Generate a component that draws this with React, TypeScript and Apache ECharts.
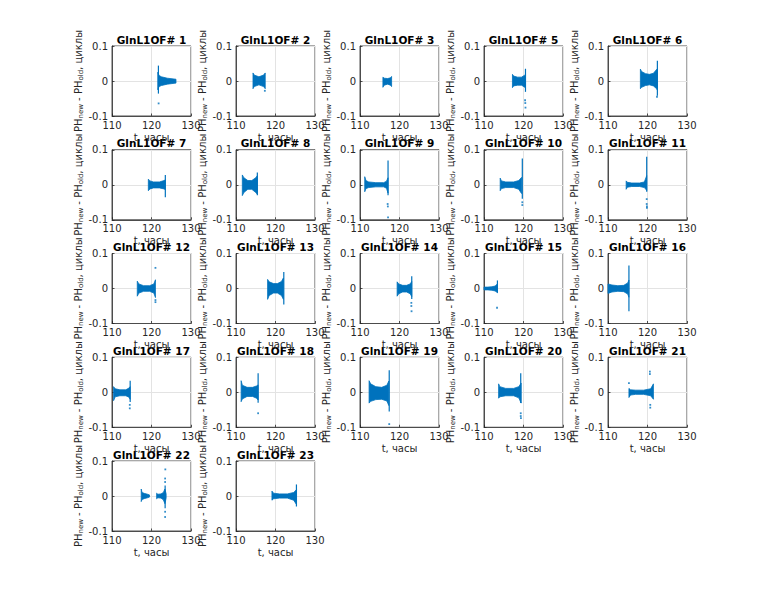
import React, { useEffect, useRef } from "react";
import * as echarts from "echarts";

const panelIds = [1, 2, 3, 5, 6, 7, 8, 9, 10, 11, 12, 13, 14, 15, 16, 17, 18, 19, 20, 21, 22, 23];
const xTicks = [110, 120, 130];
const yTicks = [-0.1, 0, 0.1];
const titlePrefix = "GlnL1OF# ";
const xName = "t, часы";

// envelope of each dense point cloud: panel, times, upper edge, lower edge
const bandPanel = [1, 2, 3, 5, 6, 7, 8, 9, 10, 11, 12, 13, 14, 15, 16, 17, 18, 19, 20, 21, 22, 22, 23];
const bandT = [
  [121.6, 121.9, 122.5, 124, 126.2],
  [114.3, 114.6, 115.8, 117.0, 117.4],
  [115.8, 116.1, 117, 117.7, 118.0],
  [117.2, 117.5, 118.5, 119.5, 120.2, 120.5],
  [118.2, 118.5, 119.5, 120.5, 121.5, 122.3, 122.5],
  [119.2, 119.6, 120.5, 122, 123.2, 123.5],
  [111.6, 112.0, 113.0, 114.0, 115.0, 115.4],
  [111.2, 111.5, 112.2, 114, 116, 116.7, 117.1],
  [114.1, 114.4, 115.5, 117.5, 118.8, 119.5],
  [114.6, 114.9, 116, 118, 119.2, 119.8],
  [116.4, 116.8, 118, 119.5, 120.6, 121.0],
  [118, 118.4, 119.5, 120.5, 121.5, 122],
  [119.4, 119.8, 120.8, 121.8, 122.7, 123.1],
  [110, 111, 112, 112.8, 113.2, 113.4],
  [110, 111, 112.5, 114, 115, 115.3],
  [110.4, 110.8, 112, 113.5, 114.3, 114.6],
  [111.3, 111.6, 112.8, 114.2, 115.2, 115.6],
  [112.3, 112.7, 114, 115.5, 116.8, 117.3],
  [113.7, 114.0, 115.5, 117.5, 118.8, 119.4],
  [115.3, 115.7, 117, 119, 120.8, 121.5],
  [117.4, 117.6, 118.3, 119.0, 119.5],
  [121.3, 121.6, 122.4, 123.0, 123.4, 123.7],
  [119.1, 119.5, 121, 123, 124.6, 125.3],
];
const bandUp = [
  [0.025, 0.016, 0.012, 0.008, 0.005],
  [0.023, 0.017, 0.012, 0.017, 0.023],
  [0.011, 0.008, 0.007, 0.009, 0.013],
  [0.019, 0.014, 0.011, 0.011, 0.016, 0.018],
  [0.034, 0.027, 0.021, 0.019, 0.022, 0.033, 0.035],
  [0.016, 0.011, 0.008, 0.008, 0.012, 0.014],
  [0.028, 0.02, 0.012, 0.012, 0.02, 0.026],
  [0.023, 0.012, 0.008, 0.006, 0.006, 0.01, 0.02],
  [0.019, 0.011, 0.008, 0.008, 0.012, 0.021],
  [0.011, 0.007, 0.005, 0.005, 0.008, 0.026],
  [0.021, 0.013, 0.008, 0.008, 0.013, 0.025],
  [0.026, 0.019, 0.014, 0.014, 0.02, 0.03],
  [0.019, 0.013, 0.009, 0.009, 0.013, 0.02],
  [0.004, 0.004, 0.005, 0.007, 0.011, 0.014],
  [0.013, 0.01, 0.008, 0.009, 0.016, 0.024],
  [0.016, 0.01, 0.007, 0.007, 0.012, 0.016],
  [0.033, 0.02, 0.014, 0.014, 0.018, 0.021],
  [0.033, 0.024, 0.016, 0.014, 0.02, 0.032],
  [0.024, 0.016, 0.011, 0.011, 0.016, 0.026],
  [0.011, 0.007, 0.006, 0.006, 0.01, 0.024],
  [0.02, 0.01, 0.007, 0.005, 0.003],
  [0.008, 0.005, 0.006, 0.01, 0.02, 0.006],
  [0.014, 0.008, 0.006, 0.006, 0.01, 0.018],
];
const bandLo = [
  [-0.025, -0.016, -0.013, -0.009, -0.006],
  [-0.022, -0.016, -0.011, -0.016, -0.022],
  [-0.018, -0.012, -0.009, -0.012, -0.016],
  [-0.019, -0.014, -0.012, -0.012, -0.017, -0.02],
  [-0.022, -0.018, -0.013, -0.011, -0.014, -0.022, -0.026],
  [-0.017, -0.012, -0.009, -0.009, -0.012, -0.014],
  [-0.031, -0.022, -0.013, -0.013, -0.022, -0.027],
  [-0.02, -0.011, -0.008, -0.006, -0.006, -0.01, -0.024],
  [-0.017, -0.011, -0.008, -0.008, -0.013, -0.025],
  [-0.013, -0.007, -0.005, -0.005, -0.008, -0.016],
  [-0.022, -0.013, -0.008, -0.008, -0.013, -0.026],
  [-0.031, -0.02, -0.013, -0.013, -0.02, -0.031],
  [-0.022, -0.015, -0.01, -0.01, -0.015, -0.023],
  [-0.004, -0.004, -0.005, -0.007, -0.01, -0.012],
  [-0.014, -0.01, -0.008, -0.009, -0.016, -0.025],
  [-0.024, -0.013, -0.01, -0.01, -0.014, -0.02],
  [-0.027, -0.019, -0.012, -0.012, -0.017, -0.022],
  [-0.031, -0.026, -0.021, -0.02, -0.025, -0.038],
  [-0.017, -0.013, -0.01, -0.01, -0.016, -0.031],
  [-0.015, -0.008, -0.006, -0.006, -0.01, -0.02],
  [-0.016, -0.01, -0.007, -0.005, -0.003],
  [-0.008, -0.005, -0.006, -0.011, -0.022, -0.006],
  [-0.012, -0.008, -0.006, -0.006, -0.012, -0.024],
];

// thin vertical streaks of points: [panel, t, low, high]
const spikes = [
  [1, 121.75, -0.036, 0.044],
  [5, 120.5, -0.031, 0.035],
  [6, 122.5, -0.042, 0.058],
  [7, 123.5, -0.036, 0.028],
  [8, 115.4, -0.03, 0.035],
  [9, 117.1, -0.03, 0.069],
  [10, 119.7, -0.04, 0.075],
  [11, 119.8, -0.02, 0.08],
  [13, 122.1, -0.046, 0.047],
  [14, 123.1, -0.03, 0.035],
  [15, 113.4, -0.012, 0.023],
  [16, 115.3, -0.065, 0.066],
  [17, 114.6, -0.028, 0.033],
  [18, 115.6, -0.03, 0.054],
  [19, 117.4, -0.055, 0.063],
  [20, 119.3, -0.031, 0.054],
  [22, 123.45, -0.035, 0.03],
  [23, 125.3, -0.03, 0.033],
];

// isolated points: [panel, t, value]
const outliers = [
  [1, 121.8, -0.064],
  [2, 117.3, -0.028],
  [5, 120.4, -0.055], [5, 120.45, -0.063], [5, 120.5, -0.076],
  [6, 122.4, -0.045],
  [9, 117.0, -0.055], [9, 117.05, -0.062], [9, 117.1, -0.093],
  [10, 119.7, -0.05], [10, 119.7, -0.058],
  [11, 119.8, -0.041], [11, 119.8, -0.055], [11, 119.85, -0.062], [11, 119.85, -0.066],
  [12, 121.0, 0.059], [12, 121.0, -0.033], [12, 121.0, -0.039],
  [14, 123.0, -0.041], [14, 123.0, -0.05], [14, 123.05, -0.065],
  [15, 113.3, -0.055],
  [17, 114.5, -0.036], [17, 114.5, -0.046],
  [18, 115.6, -0.06],
  [19, 117.4, -0.091],
  [20, 119.3, -0.06], [20, 119.3, -0.068], [20, 119.35, -0.074],
  [21, 115.3, 0.026], [21, 120.6, 0.059], [21, 120.6, 0.052], [21, 120.7, -0.036], [21, 120.7, -0.044],
  [22, 123.5, 0.076], [22, 123.45, 0.05], [22, 123.45, 0.04], [22, 123.45, -0.045], [22, 123.45, -0.06],
];

const FONT = "DejaVu Sans";
const BLUE = "#0072BD";
const AX = "#262626";

export default function App() {
  const ref = useRef<HTMLDivElement>(null);
  useEffect(() => {
    if (!ref.current) return;
    const chart = echarts.init(ref.current, undefined, { renderer: "svg" });
    const L0 = 112, CS = 124, T0 = 46, RS = 103.75, W = 79, H = 70;
    const pos = panelIds.map((_, k) => ({
      left: L0 + (k % 5) * CS,
      top: T0 + Math.floor(k / 5) * RS,
    }));
    const grid = pos.map((p) => ({
      left: p.left, top: p.top, width: W, height: H,
      show: true, borderColor: AX, borderWidth: 0.8, backgroundColor: "transparent",
    }));
    const xAxis = panelIds.map((_, k) => ({
      gridIndex: k, type: "value", min: xTicks[0], max: xTicks[xTicks.length - 1], interval: xTicks[1] - xTicks[0],
      axisLine: { show: true, onZero: false, lineStyle: { color: AX, width: 0.8 } },
      axisTick: { show: true, inside: true, length: 2.5, lineStyle: { color: AX, width: 0.8 } },
      axisLabel: { fontSize: 10, color: AX, fontFamily: FONT, margin: 4 },
      splitLine: { show: true, lineStyle: { color: "#e3e3e3", width: 1 } },
      name: xName, nameLocation: "middle", nameGap: 16,
      nameTextStyle: { fontSize: 10, color: AX, fontFamily: FONT },
    }));
    const yAxis = panelIds.map((_, k) => ({
      gridIndex: k, type: "value", min: yTicks[0], max: yTicks[yTicks.length - 1], interval: yTicks[1] - yTicks[0],
      axisLine: { show: true, onZero: false, lineStyle: { color: AX, width: 0.8 } },
      axisTick: { show: true, inside: true, length: 2.5, lineStyle: { color: AX, width: 0.8 } },
      axisLabel: {
        fontSize: 10, color: AX, fontFamily: FONT, margin: 4,
        formatter: (v: number) => (Math.abs(v) < 1e-9 ? "0" : String(Math.round(v * 10) / 10)),
      },
      splitLine: { show: true, lineStyle: { color: "#e3e3e3", width: 1 } },
      name: "{m|PH}{s|new}{m| - PH}{s|old}{m|, циклы}",
      nameLocation: "middle", nameRotate: 90, nameGap: 24,
      nameTextStyle: {
        color: AX, fontFamily: FONT, fontSize: 10, lineHeight: 16,
        rich: {
          m: { fontSize: 10, fontFamily: FONT, color: AX, lineHeight: 12, verticalAlign: "middle" },
          s: { fontSize: 7, fontFamily: FONT, color: AX, lineHeight: 8, verticalAlign: "bottom" },
        },
      },
    }));
    const series: any[] = [];
    bandPanel.forEach((pid, b) => {
      const k = panelIds.indexOf(pid);
      const ts = bandT[b], up = bandUp[b], lo = bandLo[b];
      series.push({
        type: "custom", coordinateSystem: "cartesian2d", xAxisIndex: k, yAxisIndex: k, silent: true,
        data: [[ts[0], 0]],
        renderItem: (_p: any, api: any) => {
          const pts: number[][] = [];
          for (let i = 0; i < ts.length; i++) pts.push(api.coord([ts[i], up[i]]));
          for (let i = ts.length - 1; i >= 0; i--) pts.push(api.coord([ts[i], lo[i]]));
          return { type: "polygon", shape: { points: pts }, style: { fill: BLUE, stroke: BLUE, lineWidth: 0.8 } };
        },
      });
    });
    panelIds.forEach((pid, k) => {
      const sp = spikes.filter((s) => s[0] === pid).map((s) => [s[1], s[2], s[3]]);
      if (sp.length) {
        series.push({
          type: "custom", coordinateSystem: "cartesian2d", xAxisIndex: k, yAxisIndex: k, silent: true,
          data: sp, encode: { x: 0, y: [1, 2] },
          renderItem: (_p: any, api: any) => {
            const a = api.coord([api.value(0), api.value(2)]);
            const c = api.coord([api.value(0), api.value(1)]);
            return { type: "rect", shape: { x: a[0] - 0.6, y: a[1], width: 1.2, height: c[1] - a[1] }, style: { fill: BLUE } };
          },
        });
      }
      const ol = outliers.filter((o) => o[0] === pid).map((o) => [o[1], o[2]]);
      if (ol.length) {
        series.push({
          type: "scatter", xAxisIndex: k, yAxisIndex: k, silent: true, data: ol,
          symbol: "rect", symbolSize: 1.8, itemStyle: { color: BLUE },
        });
      }
    });
    const graphic = panelIds.map((pid, k) => ({
      type: "text", x: pos[k].left + W / 2, y: pos[k].top - 1, silent: true,
      style: {
        text: titlePrefix + pid, textAlign: "center", textVerticalAlign: "bottom",
        font: `bold 10.5px "${FONT}"`, fill: "#000",
      },
    }));
    chart.setOption({
      animation: false,
      backgroundColor: "#fff",
      grid, xAxis, yAxis, series, graphic,
    });
    return () => chart.dispose();
  }, []);
  return <div ref={ref} style={{ position: "fixed", left: 0, top: 0, width: 761, height: 599 }} />;
}
